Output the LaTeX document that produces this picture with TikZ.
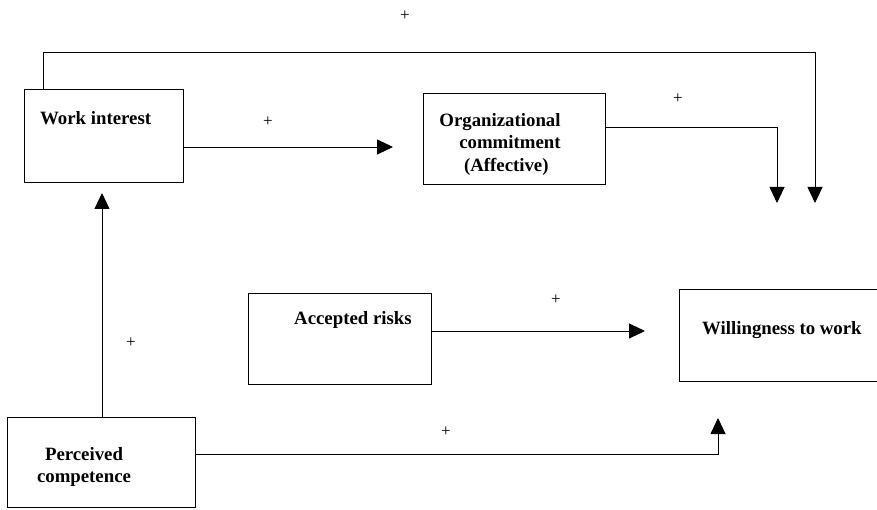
\documentclass[tikz,border=0pt]{standalone}
\usepackage{fontspec}
\setmainfont{Liberation Serif}
\usetikzlibrary{arrows.meta}
\begin{document}
\begin{tikzpicture}[x=1pt,y=-1pt,
every node/.style={font=\bfseries\fontsize{18.8}{22.5}\selectfont},
box/.style={%
draw,
line width=0.9pt,
anchor=north west,
inner sep=0pt
},
lbl/.style={%
anchor=mid west,
inner sep=0pt
},
plus/.style={%
font=\mdseries\fontsize{17}{18}\selectfont,
inner sep=0pt
},
arr/.style={%
line width=0.9pt,
-{Triangle[length=16pt,width=15pt]}
}]
\useasboundingbox (0,0) rectangle (877,510);
% boxes
\node[box,minimum width=182pt,minimum height=91pt](org)at(423,93){};
\node[box,minimum width=159pt,minimum height=93pt](wi)at(24,89){};
\node[box,minimum width=183pt,minimum height=91pt](ar)at(248,293){};
\node[box,minimum width=300pt,minimum height=92pt](ww)at(679,289){};
\node[box,minimum width=188pt,minimum height=90pt](pc)at(7,417){};
% box texts
\node[lbl](wi-t)at(40,122){Work interest};
\node[align=right,inner sep=0pt](org-t)at(500,144){Organizational\\commitment\\(Affective)\hspace*{12pt}};
\node[lbl](ar-t)at(294,322){Accepted risks};
\node[lbl](ww-t)at(702,332){Willingness to work};
\node[align=center,inner sep=0pt](pc-t)at(84,467){Perceived\\competence};
% free arrow ends
\coordinate (endTop) at (815,203);
\coordinate (endWi) at (393,147);
\coordinate (endOrg) at (777,203);
\coordinate (endAr) at (645,331);
\coordinate (endPc) at (102,193);
\coordinate (endWw) at (718,418);
% connectors
\draw[arr] ([xshift=19pt]wi.north west) -- ++(0,-37) -| (endTop);
\draw[arr] (endWi -| wi.east) -- (endWi);
\draw[arr] ([yshift=11.5pt]org.east) -| (endOrg);
\draw[arr] (endAr -| ar.east) -- (endAr);
\draw[arr] (endPc |- pc.north) -- (endPc);
\draw[arr] ([yshift=8pt]pc.east) -| (endWw);
% signs
\node[plus](p1)at(405,16){+};
\node[plus](p2)at(268,122){+};
\node[plus](p3)at(678,99){+};
\node[plus](p4)at(556,300){+};
\node[plus](p5)at(131,343){+};
\node[plus](p6)at(446,432){+};
\end{tikzpicture}
\end{document}
